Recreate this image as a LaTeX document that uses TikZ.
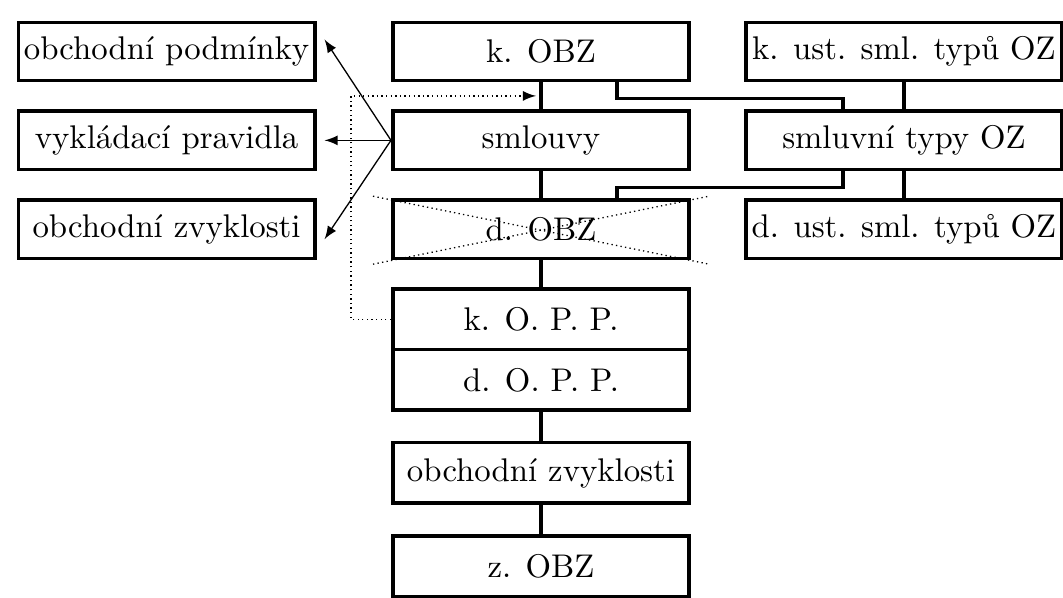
\documentclass[tikz,border=0pt]{standalone}
\usetikzlibrary{positioning,calc}

\tikzset{
  box/.style={draw, line width=1.1pt, minimum width=90.4pt, minimum height=17.8pt, inner sep=1pt},
  tallbox/.style={box, minimum height=18.5pt},
  widebox/.style={box, minimum width=96.2pt},
  link/.style={line width=1.1pt},
  pointer/.style={->, >=latex, thin},
  hint/.style={densely dotted, thin},
}

\begin{document}
\begin{tikzpicture}[x=0.305pt, y=-0.305pt, node distance=8.2pt]

  \useasboundingbox (0,0) rectangle (1063,598);

  % Main column
  \node[box] (kobz) at (541,51.5) {k. OBZ}; %
  \node[box, below=of kobz]    (smlouvy) {smlouvy}; %
  \node[box, below=of smlouvy] (dobz)    {d. OBZ}; %
  \node[tallbox, below=of dobz] (kopp)   {k. O. P. P.}; %
  \node[tallbox, below=-1.1pt of kopp] (dopp) {d. O. P. P.}; %
  \node[tallbox, below=8.8pt of dopp] (zvyk) {obchodní zvyklosti}; %
  \node[tallbox, below=8.8pt of zvyk] (zobz) {z. OBZ}; %

  % Left column
  \node[box, left=22.7pt of kobz]    (podm) {obchodní podmínky}; %
  \node[box, left=22.7pt of smlouvy] (vykl) {vykládací pravidla}; %
  \node[box, left=22.7pt of dobz]    (ozvy) {obchodní zvyklosti}; %

  % Right column
  \node[widebox, right=16.3pt of kobz]    (kust) {k. ust. sml. typů OZ}; %
  \node[widebox, right=16.3pt of smlouvy] (typy) {smluvní typy OZ}; %
  \node[widebox, right=16.3pt of dobz]    (dust) {d. ust. sml. typů OZ}; %

  % Vertical links
  \draw[link] (kobz) -- (smlouvy) ; %
  \draw[link] (smlouvy) -- (dobz) ; %
  \draw[link] (dobz) -- (kopp) ; %
  \draw[link] (dopp) -- (zvyk) ; %
  \draw[link] (zvyk) -- (zobz) ; %
  \draw[link] (kust) -- (typy) ; %
  \draw[link] (typy) -- (dust) ; %

  % Cross links to the contract types
  \draw[link] ($(kobz.south)+(76,0)$) -- ++(0,16) -| ($(typy.north)+(-61,0)$) ; %
  \draw[link] ($(typy.south)+(-61,0)$) -- ++(0,16) -| ($(dobz.north)+(76,0)$) ; %

  % Crossed out
  \draw[hint] ($(dobz.north west)+(-18,-2)$) -- ($(dobz.south east)+(18,4)$) ; %
  \draw[hint] ($(dobz.south west)+(-18,4)$) -- ($(dobz.north east)+(18,-2)$) ; %

  % Interpretation
  \draw[pointer] (smlouvy.west) -- ($(podm.east)+(8,-12)$) ; %
  \draw[pointer] (smlouvy.west) -- ($(vykl.east)+(8,0)$) ; %
  \draw[pointer] (smlouvy.west) -- ($(ozvy.east)+(8,10)$) ; %

  % Dotted return
  \coordinate (gap) at ($(kobz.south)!0.5!(smlouvy.north)$) ; %
  \draw[hint, ->, >=latex] (kopp.west) -- ++(-40,0) |- ($(gap)+(-5,0)$) ; %

\end{tikzpicture}
\end{document}
